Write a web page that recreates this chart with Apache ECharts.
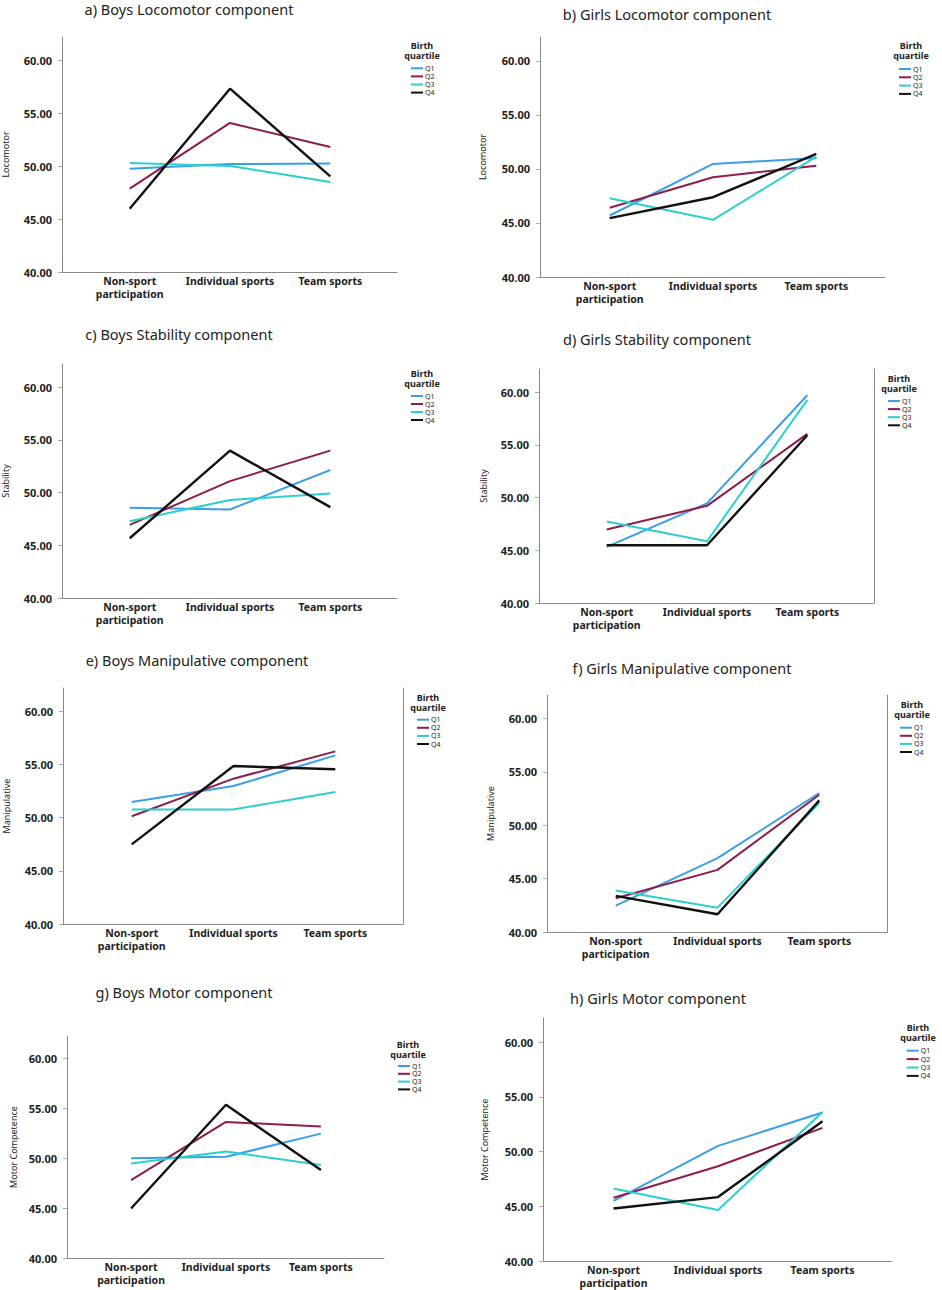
<!DOCTYPE html>
<html>
<head>
<meta charset="utf-8">
<script src="https://cdn.jsdelivr.net/npm/echarts@6/dist/echarts.min.js"></script>
<style>html,body{margin:0;padding:0;background:#fff;}#c{width:942px;height:1290px;}</style>
</head>
<body>
<div id="c"></div>
<script>
// ---- data ----
var categories = ['Non-sport\nparticipation', 'Individual sports', 'Team sports'];
var quartiles = ['Q1', 'Q2', 'Q3', 'Q4'];
var yTicks = [40, 45, 50, 55, 60];
var panelTitles = ['a) Boys Locomotor component', 'b) Girls Locomotor component',
  'c) Boys Stability component', 'd) Girls Stability component',
  'e) Boys Manipulative component', 'f) Girls Manipulative component',
  'g) Boys Motor component', 'h) Girls Motor component'];
var yNames = ['Locomotor', 'Locomotor', 'Stability', 'Stability', 'Manipulative', 'Manipulative', 'Motor Competence', 'Motor Competence'];
var legendTitle = ['Birth', 'quartile'];

var boysLocomotor    = [[49.76, 50.20, 50.24], [47.87, 54.08, 51.81], [50.30, 50.02, 48.50], [45.98, 57.32, 49.04]];
var girlsLocomotor   = [[45.69, 50.46, 51.00], [46.40, 49.23, 50.28], [47.29, 45.29, 51.14], [45.45, 47.38, 51.38]];
var boysStability    = [[48.56, 48.40, 52.14], [46.94, 51.09, 53.98], [47.29, 49.29, 49.92], [45.67, 53.98, 48.62]];
var girlsStability   = [[45.32, 49.45, 59.71], [46.97, 49.22, 56.04], [47.73, 45.86, 59.27], [45.48, 45.48, 55.91]];
var boysManipulative = [[51.47, 52.98, 55.86], [50.13, 53.67, 56.24], [50.78, 50.78, 52.41], [47.49, 54.86, 54.55]];
var girlsManipulative= [[42.47, 46.92, 53.02], [43.16, 45.82, 52.86], [43.88, 42.28, 52.08], [43.38, 41.66, 52.33]];
var boysMotor        = [[49.97, 50.13, 52.44], [47.79, 53.61, 53.14], [49.46, 50.64, 49.30], [44.95, 55.32, 48.80]];
var girlsMotor       = [[45.50, 50.52, 53.56], [45.78, 48.66, 52.16], [46.63, 44.65, 53.62], [44.80, 45.84, 52.77]];
var panelData = [boysLocomotor, girlsLocomotor, boysStability, girlsStability, boysManipulative, girlsManipulative, boysMotor, girlsMotor];

// ---- layout / style ----
var colors = ['#3a9fe6', '#8c1d4c', '#2ccfcf', '#111111'];
var grids = [
  {left: 60, top: 37, width: 337, height: 235},
  {left: 540, top: 37, width: 345, height: 240},
  {left: 62, top: 364, width: 335, height: 234},
  {left: 539, top: 369, width: 335, height: 234},
  {left: 63, top: 688, width: 340, height: 236},
  {left: 547, top: 695, width: 340, height: 237},
  {left: 67, top: 1036, width: 317, height: 222},
  {left: 543, top: 1018, width: 349, height: 243}
];
var framed = [false, false, false, true, true, true, false, false];
var nameGaps = [52, 53, 52, 51, 52, 52, 49, 54];
var titlePos = [[189, 9], [667, 14], [179, 334], [657, 339], [197, 660], [682, 668], [184, 992], [658, 998]];
var legendHead = [[422, 45], [911, 45], [422, 373], [899, 378], [428, 697], [912, 704], [408, 1044], [918, 1027]];
var legendItems = [[411, 68.3, 8.1], [899, 69, 8.3], [411, 396, 8.0], [888, 401, 8.1], [417, 719.7, 8.1], [900, 727.7, 8.1], [398, 1066, 7.8], [906.7, 1050.7, 8.4]];

var FONT = '"Noto Sans", "Open Sans", sans-serif';
var option = {
  animation: false,
  backgroundColor: '#fff',
  grid: [], xAxis: [], yAxis: [], series: [], legend: [], graphic: []
};

var yIdx = 0;
for (var p = 0; p < 8; p++) {
  var g = grids[p];
  option.grid.push({left: g.left, top: g.top, width: g.width, height: g.height, containLabel: false, show: false});
  option.xAxis.push({
    type: 'value', gridIndex: p, min: -0.675, max: 2.665,
    splitLine: {show: false},
    axisLine: {show: true, onZero: false, lineStyle: {color: '#888', width: 1}},
    axisTick: {show: false},
    axisLabel: {
      customValues: [0, 1, 2], margin: 3, color: '#222', fontWeight: 'bold', fontSize: 10.5,
      fontFamily: FONT, lineHeight: 12.6,
      formatter: function (v) { var i = Math.round(v); return categories[i] || ''; }
    }
  });
  var mainY = yIdx;
  option.yAxis.push({
    type: 'value', gridIndex: p, min: 40, max: 62.2, position: 'left',
    name: yNames[p], nameLocation: 'middle', nameGap: nameGaps[p],
    nameTextStyle: {fontSize: 9, color: '#222', fontFamily: FONT},
    splitLine: {show: false},
    axisLine: {show: true, onZero: false, lineStyle: {color: '#888', width: 1}},
    axisTick: {show: true, customValues: yTicks, length: 4, lineStyle: {color: '#aaa'}},
    axisLabel: {customValues: yTicks, margin: 10, color: '#222', fontWeight: 'bold', fontSize: 11, fontFamily: FONT,
      formatter: function (v) { return v.toFixed(2); }}
  });
  yIdx++;
  if (framed[p]) {
    option.yAxis.push({
      type: 'value', gridIndex: p, min: 40, max: 62.2, position: 'right',
      splitLine: {show: false}, axisTick: {show: false}, axisLabel: {show: false},
      axisLine: {show: true, onZero: false, lineStyle: {color: '#888', width: 1}}
    });
    yIdx++;
  }
  for (var q = 0; q < 4; q++) {
    var vals = panelData[p][q];
    option.series.push({
      type: 'line', name: quartiles[q], xAxisIndex: p, yAxisIndex: mainY,
      data: vals.map(function (v, i) { return [i, v]; }),
      showSymbol: false, symbol: 'none', z: 2 + q,
      color: colors[q],
      lineStyle: {color: colors[q], width: q === 3 ? 2.4 : 2}
    });
  }
  var li = legendItems[p];
  option.legend.push({
    data: quartiles, orient: 'vertical', left: li[0], top: li[1] - li[2] / 2,
    icon: 'rect', itemWidth: 12, itemHeight: 2, itemGap: 0, padding: 0,
    selectedMode: false,
    textStyle: {fontSize: 7, lineHeight: li[2], color: '#222', fontFamily: FONT, padding: [0, 0, 0, -3]}
  });
  option.graphic.push({
    type: 'text', x: titlePos[p][0], y: titlePos[p][1],
    style: {text: panelTitles[p], fill: '#222', font: '14.5px ' + FONT, textAlign: 'center', textVerticalAlign: 'middle'}
  });
  for (var k = 0; k < 2; k++) {
    option.graphic.push({
      type: 'text', x: legendHead[p][0], y: legendHead[p][1] + k * 10.5,
      style: {text: legendTitle[k], fill: '#222', font: 'bold 9px ' + FONT, textAlign: 'center', textVerticalAlign: 'middle'}
    });
  }
}

var chart = echarts.init(document.getElementById('c'), null, {renderer: 'svg', width: 942, height: 1290});
chart.setOption(option);
</script>
</body>
</html>
